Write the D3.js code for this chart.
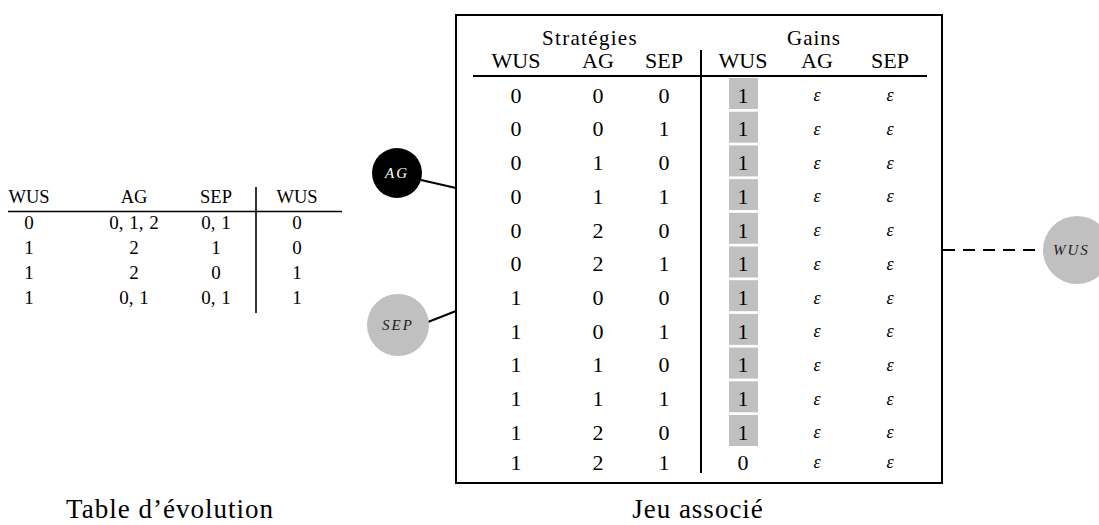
<!DOCTYPE html>
<html><head><meta charset="utf-8">
<script src="https://cdn.jsdelivr.net/npm/d3@7"></script>
<style>body{margin:0;background:#fff}svg{display:block}</style>
</head><body>
<svg id="c" width="1099" height="525"></svg>
<script>
// ---- data ----
const evoHeaders = ["WUS", "AG", "SEP", "WUS"];
const evoRows = [
  ["0", "0, 1, 2", "0, 1", "0"],
  ["1", "2", "1", "0"],
  ["1", "2", "0", "1"],
  ["1", "0, 1", "0, 1", "1"]
];
const stratHeaders = ["WUS", "AG", "SEP"];
const gainHeaders = ["WUS", "AG", "SEP"];
const stratWUS = [0,0,0,0,0,0,1,1,1,1,1,1];
const stratAG  = [0,0,1,1,2,2,0,0,1,1,2,2];
const stratSEP = [0,1,0,1,0,1,0,1,0,1,0,1];
const gainWUS  = [1,1,1,1,1,1,1,1,1,1,1,0];
const gainAG   = ["ε","ε","ε","ε","ε","ε","ε","ε","ε","ε","ε","ε"];
const gainSEP  = ["ε","ε","ε","ε","ε","ε","ε","ε","ε","ε","ε","ε"];
const nodes = [
  {id:"AG", kind:"black"},
  {id:"SEP", kind:"gray"},
  {id:"WUS", kind:"gray"}
];
const captions = ["Table d’évolution", "Jeu associé"];

// ---- drawing ----
const svg = d3.select("#c");
const serif = "'Liberation Serif', 'DejaVu Serif', serif";
const GRAY = "#c0c0c0";

// Left table
const evoX = d3.scaleOrdinal().domain([0,1,2,3]).range([29, 134, 216, 297]);
const evoY = d3.scaleLinear().domain([0, 3]).range([222, 297]);
const gL = svg.append("g").attr("font-family", serif).attr("font-size", 18.5).attr("fill", "#000");
gL.selectAll("text.h").data(evoHeaders).join("text")
  .attr("x", (d,i) => evoX(i)).attr("y", 203).attr("text-anchor","middle").text(d => d);
gL.append("line").attr("x1", 8).attr("x2", 342).attr("y1", 211.5).attr("y2", 211.5)
  .attr("stroke","#000").attr("stroke-width", 1.6);
gL.append("line").attr("x1", 256).attr("x2", 256).attr("y1", 187).attr("y2", 313)
  .attr("stroke","#000").attr("stroke-width", 1.6);
evoRows.forEach((row, r) => {
  gL.selectAll(null).data(row).join("text")
    .attr("x", (d,i) => evoX(i)).attr("y", evoY(r)).attr("dy", "0.35em")
    .attr("text-anchor","middle").attr("font-size", 19).attr("word-spacing", 1).text(d => d);
});

// Right table
svg.append("rect").attr("x", 456).attr("y", 15).attr("width", 486).attr("height", 468)
  .attr("fill","none").attr("stroke","#000").attr("stroke-width", 2);

const rowIdx = d3.range(stratWUS.length);
const rowY = d3.scaleLinear().domain([0, 10, 11]).range([95, 432, 462]);
const colS = d3.scaleOrdinal().domain(stratHeaders).range([516, 598, 664]);
const colG = d3.scaleOrdinal().domain(gainHeaders).range([743, 817, 890]);

const gR = svg.append("g").attr("font-family", serif).attr("font-size", 22).attr("fill", "#000");
gR.append("text").attr("x", 590).attr("y", 45).attr("text-anchor","middle").attr("font-size", 21).attr("letter-spacing", 1.3).text("Stratégies");
gR.append("text").attr("x", 814).attr("y", 45).attr("text-anchor","middle").attr("font-size", 21).attr("letter-spacing", 1).text("Gains");
gR.selectAll("text.sh").data(stratHeaders).join("text")
  .attr("x", d => colS(d)).attr("y", 68).attr("text-anchor","middle").text(d => d);
gR.selectAll("text.gh").data(gainHeaders).join("text")
  .attr("x", d => colG(d)).attr("y", 68).attr("text-anchor","middle").text(d => d);
gR.append("line").attr("x1", 473).attr("x2", 927).attr("y1", 76).attr("y2", 76)
  .attr("stroke","#000").attr("stroke-width", 2);
gR.append("line").attr("x1", 701).attr("x2", 701).attr("y1", 50).attr("y2", 473)
  .attr("stroke","#000").attr("stroke-width", 2);

// highlight cells
gR.selectAll("rect.hl").data(rowIdx.filter(i => gainWUS[i] === 1)).join("rect")
  .attr("x", 729).attr("width", 29)
  .attr("y", i => rowY(i) - 17).attr("height", 31)
  .attr("fill", GRAY);

const stratCols = [["WUS", stratWUS], ["AG", stratAG], ["SEP", stratSEP]];
stratCols.forEach(([k, arr]) => {
  gR.selectAll(null).data(rowIdx).join("text")
    .attr("x", colS(k)).attr("y", i => rowY(i)).attr("dy", "0.35em")
    .attr("text-anchor","middle").text(i => arr[i]);
});
gR.selectAll(null).data(rowIdx).join("text")
  .attr("x", colG("WUS")).attr("y", i => rowY(i)).attr("dy", "0.35em")
  .attr("text-anchor","middle").text(i => gainWUS[i]);
[["AG", gainAG], ["SEP", gainSEP]].forEach(([k, arr]) => {
  gR.selectAll(null).data(rowIdx).join("text")
    .attr("x", colG(k)).attr("y", i => rowY(i)).attr("dy", "0.35em")
    .attr("text-anchor","middle").attr("font-style","italic").attr("font-size", 18).text(i => arr[i]);
});

// Nodes and links
const nodePos = {AG:{x:397,y:173,r:25}, SEP:{x:398,y:325,r:31}, WUS:{x:1077,y:250,r:34}};
svg.append("line").attr("x1", 421).attr("y1", 180).attr("x2", 456).attr("y2", 188)
  .attr("stroke","#000").attr("stroke-width", 2);
svg.append("line").attr("x1", 428).attr("y1", 322).attr("x2", 456).attr("y2", 311)
  .attr("stroke","#000").attr("stroke-width", 2);
svg.append("line").attr("x1", 943).attr("y1", 250).attr("x2", 1043).attr("y2", 250)
  .attr("stroke","#000").attr("stroke-width", 2).attr("stroke-dasharray", "12,8");

const gN = svg.selectAll("g.node").data(nodes).join("g")
  .attr("transform", d => `translate(${nodePos[d.id].x},${nodePos[d.id].y})`);
gN.append("circle").attr("r", d => nodePos[d.id].r)
  .attr("fill", d => d.kind === "black" ? "#000" : GRAY);
gN.append("text").attr("text-anchor", d => d.id === "WUS" ? "start" : "middle")
  .attr("x", d => d.id === "WUS" ? -24 : 0)
  .attr("dy", "0.35em").attr("font-family", serif).attr("font-style","italic")
  .attr("font-size", 15).attr("letter-spacing", 2)
  .attr("fill", d => d.kind === "black" ? "#fff" : "#222").text(d => d.id);

// Captions
svg.selectAll("text.cap").data(captions).join("text")
  .attr("x", (d,i) => [170, 698][i]).attr("y", 518).attr("text-anchor","middle")
  .attr("font-family", serif).attr("font-size", 27).attr("letter-spacing", 1).text(d => d);
</script>
</body></html>
